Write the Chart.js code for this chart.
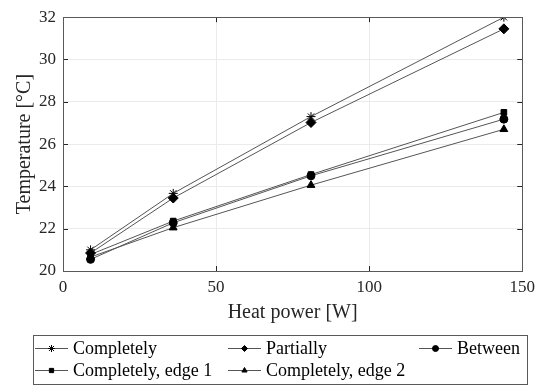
<!DOCTYPE html>
<html>
<head>
<meta charset="utf-8">
<script src="https://cdn.jsdelivr.net/npm/chart.js@4"></script>
<style>
  html, body { margin: 0; padding: 0; background: #fff; }
  #wrap { width: 541px; height: 387px; }
</style>
</head>
<body>
<div id="wrap"><canvas id="tempChart" width="541" height="387"></canvas></div>
<script>
// ---------- Data ----------
var heatPower = [9, 36, 81, 144];
var completely = [21.0, 23.67, 27.3, 32.0];
var partially = [20.85, 23.45, 27.02, 31.45];
var between = [20.55, 22.28, 24.5, 27.18];
var edge1 = [20.78, 22.36, 24.56, 27.5];
var edge2 = [20.66, 22.05, 24.06, 26.7];

var seriesNames = ['Completely', 'Partially', 'Between', 'Completely, edge 1', 'Completely, edge 2'];
var seriesValues = [completely, partially, between, edge1, edge2];
var seriesMarkers = ['star', 'rectRot', 'circle', 'rect', 'triangle'];
var markerSizes = [4.5, 5, 4, 4, 4.5];

var xTicks = [0, 50, 100, 150];
var yTicks = [20, 22, 24, 26, 28, 30, 32];

var FONT = "'Liberation Serif', 'Times New Roman', serif";
var LINE = '#555555';

function toPoints(values) {
	return heatPower.map(function (x, i) { return { x: x, y: values[i] }; });
}

var datasets = seriesNames.map(function (name, i) {
	return {
		label: name,
		data: toPoints(seriesValues[i]),
		borderColor: LINE,
		borderWidth: 1,
		pointStyle: seriesMarkers[i],
		pointRadius: markerSizes[i],
		pointBorderColor: '#000',
		pointBackgroundColor: '#000',
		pointBorderWidth: 1,
		tension: 0
	};
});

// box round the plot, inward ticks, and the framed legend underneath
var framePlugin = {
	id: 'frame',
	afterDatasetsDraw: function (chart) {
		var c = chart.ctx;
		var a = chart.chartArea;
		var xs = chart.scales.x;
		var ys = chart.scales.y;
		c.save();
		c.strokeStyle = '#262626';
		c.lineWidth = 1;
		xTicks.forEach(function (v) {
			var px = Math.round(xs.getPixelForValue(v)) + 0.5;
			c.beginPath();
			c.moveTo(px, a.bottom); c.lineTo(px, a.bottom - 5);
			c.moveTo(px, a.top); c.lineTo(px, a.top + 5);
			c.stroke();
		});
		yTicks.forEach(function (v) {
			var py = Math.round(ys.getPixelForValue(v)) + 0.5;
			c.beginPath();
			c.moveTo(a.left, py); c.lineTo(a.left + 5, py);
			c.moveTo(a.right, py); c.lineTo(a.right - 5, py);
			c.stroke();
		});
		c.strokeStyle = '#5a5a5a';
		c.strokeRect(Math.round(a.left) + 0.5, Math.round(a.top) + 0.5,
			Math.round(a.right - a.left), Math.round(a.bottom - a.top));
		c.restore();
	},
	afterDraw: function (chart) {
		var c = chart.ctx;
		c.save();
		c.strokeStyle = '#5a5a5a';
		c.lineWidth = 1;
		c.strokeRect(33.5, 335.5, 494, 49);

		var slots = [
			{ x: 35, y: 348 }, { x: 228, y: 348 }, { x: 419, y: 348 },
			{ x: 35, y: 370 }, { x: 228, y: 370 }
		];
		c.font = '18px ' + FONT;
		c.textBaseline = 'middle';
		chart.data.datasets.forEach(function (ds, i) {
			var s = slots[i];
			c.strokeStyle = LINE;
			c.beginPath();
			c.moveTo(s.x, s.y + 0.5);
			c.lineTo(s.x + 33, s.y + 0.5);
			c.stroke();
			c.strokeStyle = '#000';
			c.fillStyle = '#000';
			Chart.helpers.drawPoint(c, {
				pointStyle: ds.pointStyle,
				radius: ds.pointStyle === 'star' ? 3.5 : 3,
				borderWidth: 1,
				rotation: 0
			}, s.x + 16.5, s.y + 0.5);
			c.fillStyle = '#000';
			c.fillText(ds.label, s.x + 38, s.y + 1);
		});
		c.restore();
	}
};

new Chart(document.getElementById('tempChart'), {
	type: 'line',
	data: { datasets: datasets },
	options: {
		responsive: false,
		animation: false,
		layout: { padding: { left: 13, top: 15, right: 15, bottom: 62 } },
		plugins: {
			legend: { display: false },
			tooltip: { enabled: false }
		},
		scales: {
			x: {
				type: 'linear',
				min: 0,
				max: 150,
				afterBuildTicks: function (scale) {
					scale.ticks = xTicks.map(function (v) { return { value: v }; });
				},
				afterFit: function (scale) { scale.height = 54; },
				grid: { color: '#ebebeb', drawTicks: false },
				border: { display: false },
				ticks: { color: '#262626', padding: 6, font: { family: FONT, size: 17 } },
				title: {
					display: true,
					text: 'Heat power [W]',
					color: '#262626',
					padding: 0,
					font: { family: FONT, size: 20 }
				}
			},
			y: {
				type: 'linear',
				min: 20,
				max: 32,
				afterBuildTicks: function (scale) {
					scale.ticks = yTicks.map(function (v) { return { value: v }; });
				},
				afterFit: function (scale) { scale.width = 50; },
				grid: { color: '#ebebeb', drawTicks: false },
				border: { display: false },
				ticks: { color: '#262626', padding: 7, font: { family: FONT, size: 17 } },
				title: {
					display: true,
					text: 'Temperature [°C]',
					color: '#262626',
					padding: 0,
					font: { family: FONT, size: 20 }
				}
			}
		}
	},
	plugins: [framePlugin]
});
</script>
</body>
</html>
